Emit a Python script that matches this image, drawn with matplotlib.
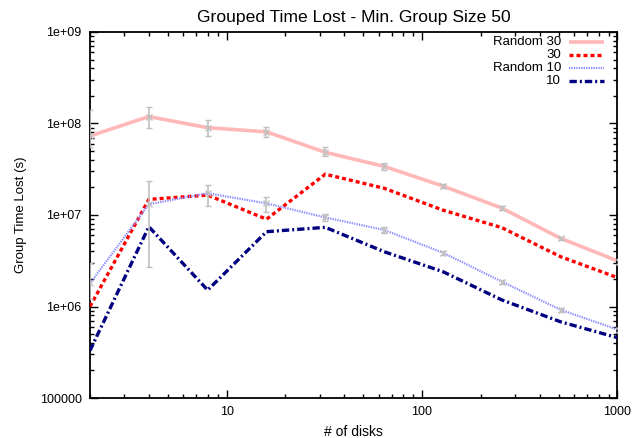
import matplotlib
matplotlib.use("Agg")
import matplotlib.pyplot as plt
from matplotlib.lines import Line2D
from matplotlib.ticker import FixedLocator, LogLocator, NullFormatter

plt.rcParams['font.family'] = ['Liberation Sans', 'DejaVu Sans']

# number of disks
disks = [2, 4, 8, 16, 32, 64, 128, 256, 512, 1024]

# group time lost (s)
random30 = [7.3e7, 1.19e8, 9.0e7, 8.1e7, 4.84e7, 3.4e7, 2.07e7, 1.19e7, 5.56e6, 3.09e6]
random30_lo = [5.5e7, 8.9e7, 7.3e7, 7.1e7, 4.4e7, 3.1e7, 1.95e7, 1.13e7, 5.3e6, 2.9e6]
random30_hi = [1.4e8, 1.5e8, 1.1e8, 9.1e7, 5.6e7, 3.7e7, 2.2e7, 1.25e7, 5.8e6, 3.3e6]

fixed30 = [1.0e6, 1.48e7, 1.65e7, 9.0e6, 2.79e7, 1.96e7, 1.13e7, 7.27e6, 3.5e6, 2.03e6]

random10 = [1.79e6, 1.31e7, 1.73e7, 1.34e7, 9.4e6, 6.86e6, 3.87e6, 1.87e6, 9.2e5, 5.5e5]
random10_lo = [1.2e6, 2.7e6, 1.26e7, 1.09e7, 8.7e6, 6.3e6, 3.7e6, 1.78e6, 8.8e5, 5.2e5]
random10_hi = [3.0e6, 2.37e7, 2.14e7, 1.58e7, 1.03e7, 7.4e6, 4.05e6, 1.96e6, 9.6e5, 5.8e5]

fixed10 = [3.3e5, 7.45e6, 1.51e6, 6.57e6, 7.33e6, 3.97e6, 2.4e6, 1.18e6, 6.8e5, 4.5e5]

series_labels = ['Random 30', '30', 'Random 10', '10']

y_ticks = [1e5, 1e6, 1e7, 1e8, 1e9]
y_tick_labels = ["100000", "1e+06", "1e+07", "1e+08", "1e+09"]
x_ticks = [10, 100, 1000]
x_tick_labels = ["10", "100", "1000"]

W, H = 632, 438
fig = plt.figure(figsize=(W / 100, H / 100), dpi=100)
ax = fig.add_axes([0.1424, 0.0913, 0.8346, 0.8357])

styles = [
    dict(color='#ffb8b8', lw=2.6, solid_capstyle='butt', zorder=2),
    dict(color='#ff0000', lw=2.4, linestyle=(0, (1.2, 0.9)), zorder=3),
    dict(color='#8c8cff', lw=1.6, linestyle=(0, (0.6, 0.5)), zorder=3),
    dict(color='#000080', lw=2.4, linestyle=(0, (2.2, 0.9, 0.6, 0.9)), zorder=4),
]

for ys, st in zip([random30, fixed30, random10, fixed10], styles):
    ax.plot(disks, ys, **st)

for vals, lo, hi in [(random30, random30_lo, random30_hi), (random10, random10_lo, random10_hi)]:
    err = [[v - l for v, l in zip(vals, lo)], [h - v for v, h in zip(vals, hi)]]
    ax.errorbar(disks, vals, yerr=err, fmt='x', color='#c0c0c0', ms=4, mew=1.0,
                elinewidth=1.2, capsize=2.5, capthick=1.0, zorder=5)

ax.set_xscale('log')
ax.set_yscale('log')
ax.set_xlim(2, 1000)
ax.set_ylim(1e5, 1e9)

ax.xaxis.set_major_locator(FixedLocator(x_ticks))
ax.set_xticklabels(x_tick_labels)
ax.yaxis.set_major_locator(FixedLocator(y_ticks))
ax.set_yticklabels(y_tick_labels)
ax.xaxis.set_minor_locator(LogLocator(base=10, subs=range(2, 10)))
ax.yaxis.set_minor_locator(LogLocator(base=10, subs=range(2, 10)))
ax.xaxis.set_minor_formatter(NullFormatter())
ax.yaxis.set_minor_formatter(NullFormatter())

ax.tick_params(which='both', direction='in', top=True, right=True, labelsize=9, width=1.0)
ax.tick_params(which='major', length=6, pad=6)
ax.tick_params(which='minor', length=3)
for s in ax.spines.values():
    s.set_linewidth(1.3)

ax.set_title('Grouped Time Lost - Min. Group Size 50', fontsize=12.6, pad=7)
ax.set_xlabel('# of disks', fontsize=10, labelpad=5)
ax.set_ylabel('Group Time Lost (s)', fontsize=9.5, labelpad=9)

# key in the upper right: right-aligned labels followed by line samples
for i, (lab, st) in enumerate(zip(series_labels, styles)):
    y = 1 - (42 + 13 * i) / H
    fig.text(561 / W, y, lab, ha='right', va='center', fontsize=9.5)
    kw = {k: v for k, v in st.items() if k != 'zorder'}
    fig.add_artist(Line2D([569 / W, 604 / W], [y, y], transform=fig.transFigure, **kw))

fig.savefig('out.png', dpi=100)
